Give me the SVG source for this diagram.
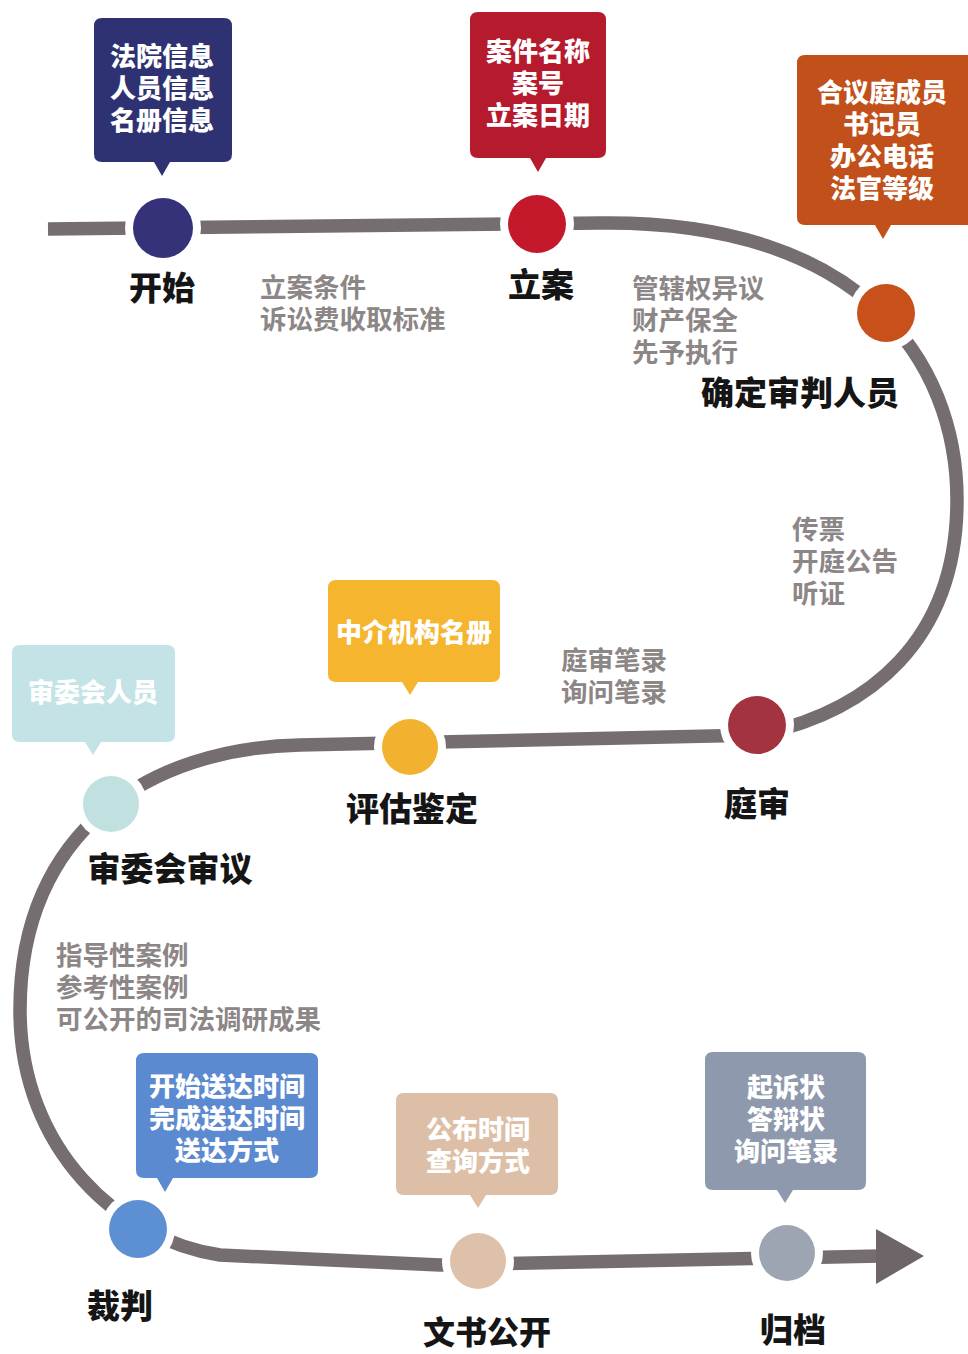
<svg xmlns="http://www.w3.org/2000/svg" width="968" height="1354" viewBox="0 0 968 1354">
<defs>
<style>
.line{fill:none;stroke:#766d70;stroke-width:13.5}
.halo{fill:#fff}
.bt{font-family:"Noto Sans CJK SC","Noto Sans",sans-serif;font-weight:900;font-size:26px;fill:#fff;text-anchor:middle;dominant-baseline:central}
.lbl{font-family:"Noto Sans CJK SC","Noto Sans",sans-serif;font-weight:900;font-size:33px;fill:#151515;text-anchor:middle;dominant-baseline:central}
.gt{font-family:"Noto Sans CJK SC","Noto Sans",sans-serif;font-weight:700;font-size:26.5px;fill:#8c8686;dominant-baseline:central}
</style>
</defs>
<rect width="968" height="1354" fill="#fff"/>
<g id="connectors">
<path class="line" d="M48,229 L600,223 C860,220 957,360 957,500 C957,640 870,712 757,735 L300,745 C150,748 20,830 20,1010 C20,1150 120,1240 220,1255 L440,1265 L880,1256"/>
<polygon points="876,1229 924,1256 876,1284" fill="#6e6568"/>
</g>
<g id="start">
<path d="M102,18 H224 Q232,18 232,26 V154 Q232,162 224,162 H170 L162,176 L154,162 H102 Q94,162 94,154 V26 Q94,18 102,18 Z" fill="#2e3272"/>
<text class="bt" x="162" y="54">法院信息</text><text class="bt" x="162" y="86">人员信息</text><text class="bt" x="162" y="118">名册信息</text>
<circle class="halo" cx="163" cy="228" r="38"/><circle cx="163" cy="228" r="30" fill="#35327a"/>
<text class="lbl" x="162" y="286">开始</text>
</g>
<g id="filing">
<path d="M478,12 H598 Q606,12 606,20 V150 Q606,158 598,158 H546 L538,172 L530,158 H478 Q470,158 470,150 V20 Q470,12 478,12 Z" fill="#b61a2d"/>
<text class="bt" x="538" y="49">案件名称</text><text class="bt" x="538" y="81">案号</text><text class="bt" x="538" y="113">立案日期</text>
<circle class="halo" cx="537" cy="224" r="37"/><circle cx="537" cy="224" r="29" fill="#c4182b"/>
<text class="lbl" x="541" y="283">立案</text>
</g>
<g id="judges">
<path d="M805,55 H968 V225 H891 L883,239 L875,225 H805 Q797,225 797,217 V63 Q797,55 805,55 Z" fill="#c1501a"/>
<text class="bt" x="882" y="90">合议庭成员</text><text class="bt" x="882" y="122">书记员</text><text class="bt" x="882" y="154">办公电话</text><text class="bt" x="882" y="186">法官等级</text>
<circle class="halo" cx="886" cy="313" r="37"/><circle cx="886" cy="313" r="29" fill="#c8501a"/>
<text class="lbl" x="800" y="391">确定审判人员</text>
</g>
<g id="trial">
<circle class="halo" cx="757" cy="725" r="37"/><circle cx="757" cy="725" r="29" fill="#a3343f"/>
<text class="lbl" x="757" y="802">庭审</text>
</g>
<g id="appraisal">
<path d="M336,580 H492 Q500,580 500,588 V674 Q500,682 492,682 H418 L410,695 L402,682 H336 Q328,682 328,674 V588 Q328,580 336,580 Z" fill="#f5b52e"/>
<text class="bt" x="414" y="630">中介机构名册</text>
<circle class="halo" cx="410" cy="747" r="36"/><circle cx="410" cy="747" r="28" fill="#f2b230"/>
<text class="lbl" x="412" y="807">评估鉴定</text>
</g>
<g id="committee">
<path d="M20,645 H167 Q175,645 175,653 V734 Q175,742 167,742 H101 L93,755 L85,742 H20 Q12,742 12,734 V653 Q12,645 20,645 Z" fill="#c4e3e7"/>
<text class="bt" x="93" y="690">审委会人员</text>
<circle class="halo" cx="111" cy="804" r="36"/><circle cx="111" cy="804" r="28" fill="#c0e1df"/>
<text class="lbl" x="170" y="867">审委会审议</text>
</g>
<g id="judgment">
<path d="M144,1053 H310 Q318,1053 318,1061 V1170 Q318,1178 310,1178 H173 L165,1192 L157,1178 H144 Q136,1178 136,1170 V1061 Q136,1053 144,1053 Z" fill="#5b8ad0"/>
<text class="bt" x="227" y="1084">开始送达时间</text><text class="bt" x="227" y="1116">完成送达时间</text><text class="bt" x="227" y="1148">送达方式</text>
<circle class="halo" cx="138" cy="1229" r="37"/><circle cx="138" cy="1229" r="29" fill="#5d90d2"/>
<text class="lbl" x="120" y="1304">裁判</text>
</g>
<g id="publish">
<path d="M404,1093 H550 Q558,1093 558,1101 V1187 Q558,1195 550,1195 H486 L478,1208 L470,1195 H404 Q396,1195 396,1187 V1101 Q396,1093 404,1093 Z" fill="#dcbfa6"/>
<text class="bt" x="478" y="1127">公布时间</text><text class="bt" x="478" y="1159">查询方式</text>
<circle class="halo" cx="478" cy="1261" r="36"/><circle cx="478" cy="1261" r="28" fill="#ddc1aa"/>
<text class="lbl" x="487" y="1330" style="font-size:32px">文书公开</text>
</g>
<g id="archive">
<path d="M713,1052 H858 Q866,1052 866,1060 V1182 Q866,1190 858,1190 H793 L785,1203 L777,1190 H713 Q705,1190 705,1182 V1060 Q705,1052 713,1052 Z" fill="#8e99ad"/>
<text class="bt" x="786" y="1085">起诉状</text><text class="bt" x="786" y="1117">答辩状</text><text class="bt" x="786" y="1149">询问笔录</text>
<circle class="halo" cx="787" cy="1253" r="36"/><circle cx="787" cy="1253" r="28" fill="#9da5b3"/>
<text class="lbl" x="793" y="1328">归档</text>
</g>
<g id="notes">
<text class="gt" x="260" y="285">立案条件</text><text class="gt" x="260" y="317">诉讼费收取标准</text>
<text class="gt" x="632" y="286">管辖权异议</text><text class="gt" x="632" y="318">财产保全</text><text class="gt" x="632" y="350">先予执行</text>
<text class="gt" x="792" y="527">传票</text><text class="gt" x="792" y="559">开庭公告</text><text class="gt" x="792" y="591">听证</text>
<text class="gt" x="561" y="658">庭审笔录</text><text class="gt" x="561" y="690">询问笔录</text>
<text class="gt" x="56" y="953">指导性案例</text><text class="gt" x="56" y="985">参考性案例</text><text class="gt" x="56" y="1017">可公开的司法调研成果</text>
</g>
</svg>
